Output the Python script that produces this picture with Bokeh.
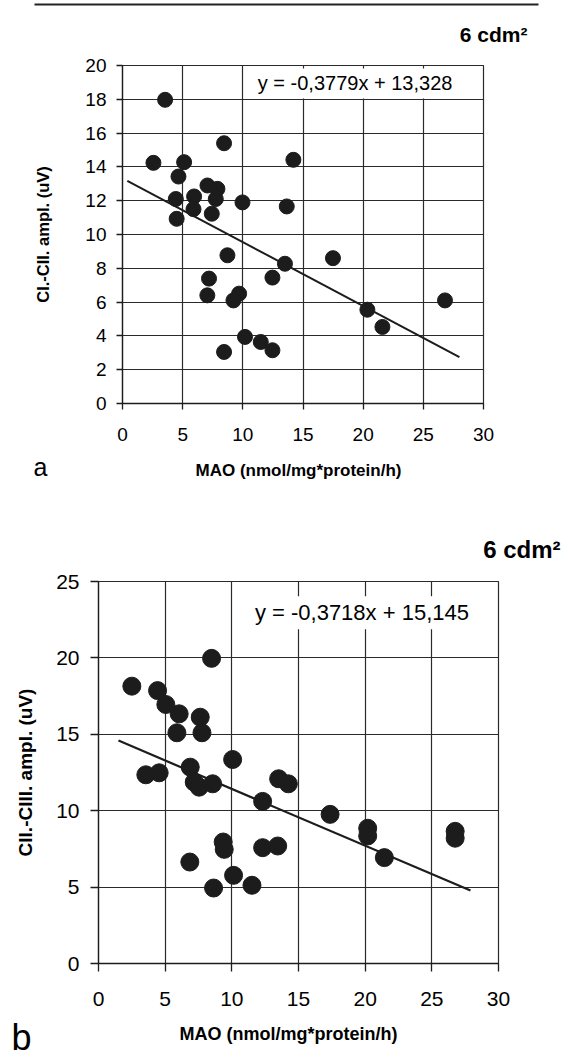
from bokeh.plotting import figure
from bokeh.models import Range1d, Label, FixedTicker
from bokeh.embed import file_html
from bokeh.resources import INLINE

# ---------------- data ----------------
# panel a: CI.-CII. amplitude vs MAO
mao_a = [3.54, 8.44, 2.57, 5.12, 14.2, 4.65, 7.06, 7.89, 4.43, 5.95, 7.75, 9.97,
         13.65, 5.9, 4.5, 7.42, 8.72, 17.49, 13.5, 7.19, 12.46, 7.05, 9.69, 9.22,
         20.35, 21.6, 10.18, 11.49, 12.46, 8.44, 26.8]
amp_a = [17.97, 15.4, 14.24, 14.28, 14.42, 13.43, 12.9, 12.7, 12.1, 12.25, 12.1, 11.9,
         11.66, 11.5, 10.93, 11.23, 8.77, 8.6, 8.27, 7.39, 7.45, 6.4, 6.5, 6.1,
         5.55, 4.53, 3.94, 3.64, 3.15, 3.05, 6.1]
slope_a, intercept_a = -0.3779, 13.328
trend_x_a = [0.4, 28.0]
eq_a = "y = -0,3779x + 13,328"

# panel b: CII.-CIII. amplitude vs MAO
mao_b = [8.48, 2.5, 4.43, 5.05, 6.05, 7.63, 5.88, 7.76, 10.06, 3.55, 4.55, 6.88,
         7.18, 7.55, 8.56, 13.51, 14.24, 12.31, 17.37, 20.19, 20.19, 21.44, 9.35, 9.43,
         12.31, 13.44, 6.85, 10.13, 11.51, 8.63, 26.75, 26.75]
amp_b = [19.97, 18.15, 17.86, 16.95, 16.34, 16.12, 15.1, 15.1, 13.35, 12.35, 12.48, 12.85,
         11.87, 11.54, 11.76, 12.09, 11.76, 10.61, 9.76, 8.85, 8.35, 6.93, 7.95, 7.47,
         7.58, 7.69, 6.64, 5.77, 5.12, 4.94, 8.65, 8.2]
slope_b, intercept_b = -0.3718, 15.145
trend_x_b = [1.5, 27.9]
eq_b = "y = -0,3718x + 15,145"

x_ticks = [0, 5, 10, 15, 20, 25, 30]
y_ticks_a = [0, 2, 4, 6, 8, 10, 12, 14, 16, 18, 20]
y_ticks_b = [0, 5, 10, 15, 20, 25]

x_title = "MAO (nmol/mg*protein/h)"
y_title_a = "CI.-CII. ampl. (uV)"
y_title_b = "CII.-CIII. ampl. (uV)"
area_label = "6 cdm\u00b2"

FONT = "Liberation Sans"
INK = "#1c1c1c"
W = 565


def style(p, xt, yt, fs, tick_out, x_standoff, y_standoff):
    p.xaxis.ticker = FixedTicker(ticks=xt)
    p.yaxis.ticker = FixedTicker(ticks=yt)
    p.xgrid.ticker = FixedTicker(ticks=xt)
    p.ygrid.ticker = FixedTicker(ticks=yt)
    for g in (p.xgrid, p.ygrid):
        g.grid_line_color = "#2a2a2a"
        g.grid_line_width = 1.2
    for ax in (p.xaxis, p.yaxis):
        ax.axis_line_color = INK
        ax.axis_line_width = 1.3
        ax.major_tick_line_color = INK
        ax.major_tick_line_width = 1.3
        ax.major_tick_out = tick_out
        ax.major_tick_in = 0
        ax.minor_tick_out = 0
        ax.minor_tick_in = 0
        ax.major_label_text_font = FONT
        ax.major_label_text_font_size = fs
        ax.major_label_text_color = "black"
        ax.axis_label_text_color = "black"
        ax.axis_label_text_font = FONT
        ax.axis_label_text_font_style = "bold"
    p.xaxis.major_label_standoff = x_standoff
    p.yaxis.major_label_standoff = y_standoff
    p.outline_line_color = "#2a2a2a"
    p.outline_line_width = 1.2
    p.background_fill_color = "white"
    p.border_fill_color = "white"


def add_label(p, x, y, text, size, bold=False, align="center", bg=None, pad=0):
    lab = Label(x=x, y=y, text=text, text_font=FONT, text_font_size=size,
                text_font_style="bold" if bold else "normal", text_color="black",
                text_align=align, text_baseline="middle",
                background_fill_color=bg, background_fill_alpha=1.0 if bg else 0.0,
                padding=pad)
    p.add_layout(lab)


def strip(h):
    s = figure(width=W, height=h, x_range=Range1d(0, W), y_range=Range1d(h, 0),
               x_axis_type=None, y_axis_type=None, output_backend="svg",
               toolbar_location=None, min_border=0, title=None)
    s.outline_line_color = None
    s.background_fill_color = "white"
    s.border_fill_color = "white"
    return s


# ---------------- strip above panel a: rule + area label ----------------
s1 = strip(50)
s1.line([34, 538], [4, 4], line_color="#222", line_width=2)
add_label(s1, 527, 33.5, area_label, "21px", bold=True, align="right")

# ---------------- panel a ----------------
pa = figure(width=W, height=400, x_range=Range1d(0, 30), y_range=Range1d(0, 20),
            output_backend="svg", toolbar_location=None, title=None,
            min_border_left=122, min_border_right=82, min_border_top=15, min_border_bottom=47)
style(pa, x_ticks, y_ticks_a, "19px", 6, 18, 10)
pa.yaxis.axis_label = y_title_a
pa.yaxis.axis_label_text_font_size = "16.5px"
pa.yaxis.axis_label_standoff = 30
pa.line(trend_x_a, [slope_a * v + intercept_a for v in trend_x_a], line_color=INK, line_width=2)
pa.scatter(mao_a, amp_a, size=15, fill_color=INK, line_color=INK)
add_label(pa, 10.91, 18.94, eq_a, "20px", align="left", bg="white", pad=4)

# ---------------- strip below panel a ----------------
s2 = strip(80)
add_label(s2, 40, 16, "a", "25px")
add_label(s2, 298, 20, x_title, "17px", bold=True)

# ---------------- strip above panel b ----------------
s3 = strip(35)
add_label(s3, 560, 19, area_label, "24px", bold=True, align="right")

# ---------------- panel b ----------------
pb = figure(width=W, height=450, x_range=Range1d(0, 30), y_range=Range1d(0, 25),
            output_backend="svg", toolbar_location=None, title=None,
            min_border_left=98, min_border_right=67, min_border_top=16, min_border_bottom=52)
style(pb, x_ticks, y_ticks_b, "21px", 8, 20, 11)
pb.yaxis.axis_label = y_title_b
pb.yaxis.axis_label_text_font_size = "19px"
pb.yaxis.axis_label_standoff = 17
pb.line(trend_x_b, [slope_b * v + intercept_b for v in trend_x_b], line_color=INK, line_width=2.2)
pb.scatter(mao_b, amp_b, size=18, fill_color=INK, line_color=INK)
add_label(pb, 11.43, 22.96, eq_b, "22px", align="left", bg="white", pad=4)

# ---------------- strip below panel b ----------------
s4 = strip(44)
add_label(s4, 21, 21.5, "b", "36px")
add_label(s4, 288, 18, x_title, "18px", bold=True)

open("out.html", "w").write(file_html([s1, pa, s2, s3, pb, s4], INLINE))
